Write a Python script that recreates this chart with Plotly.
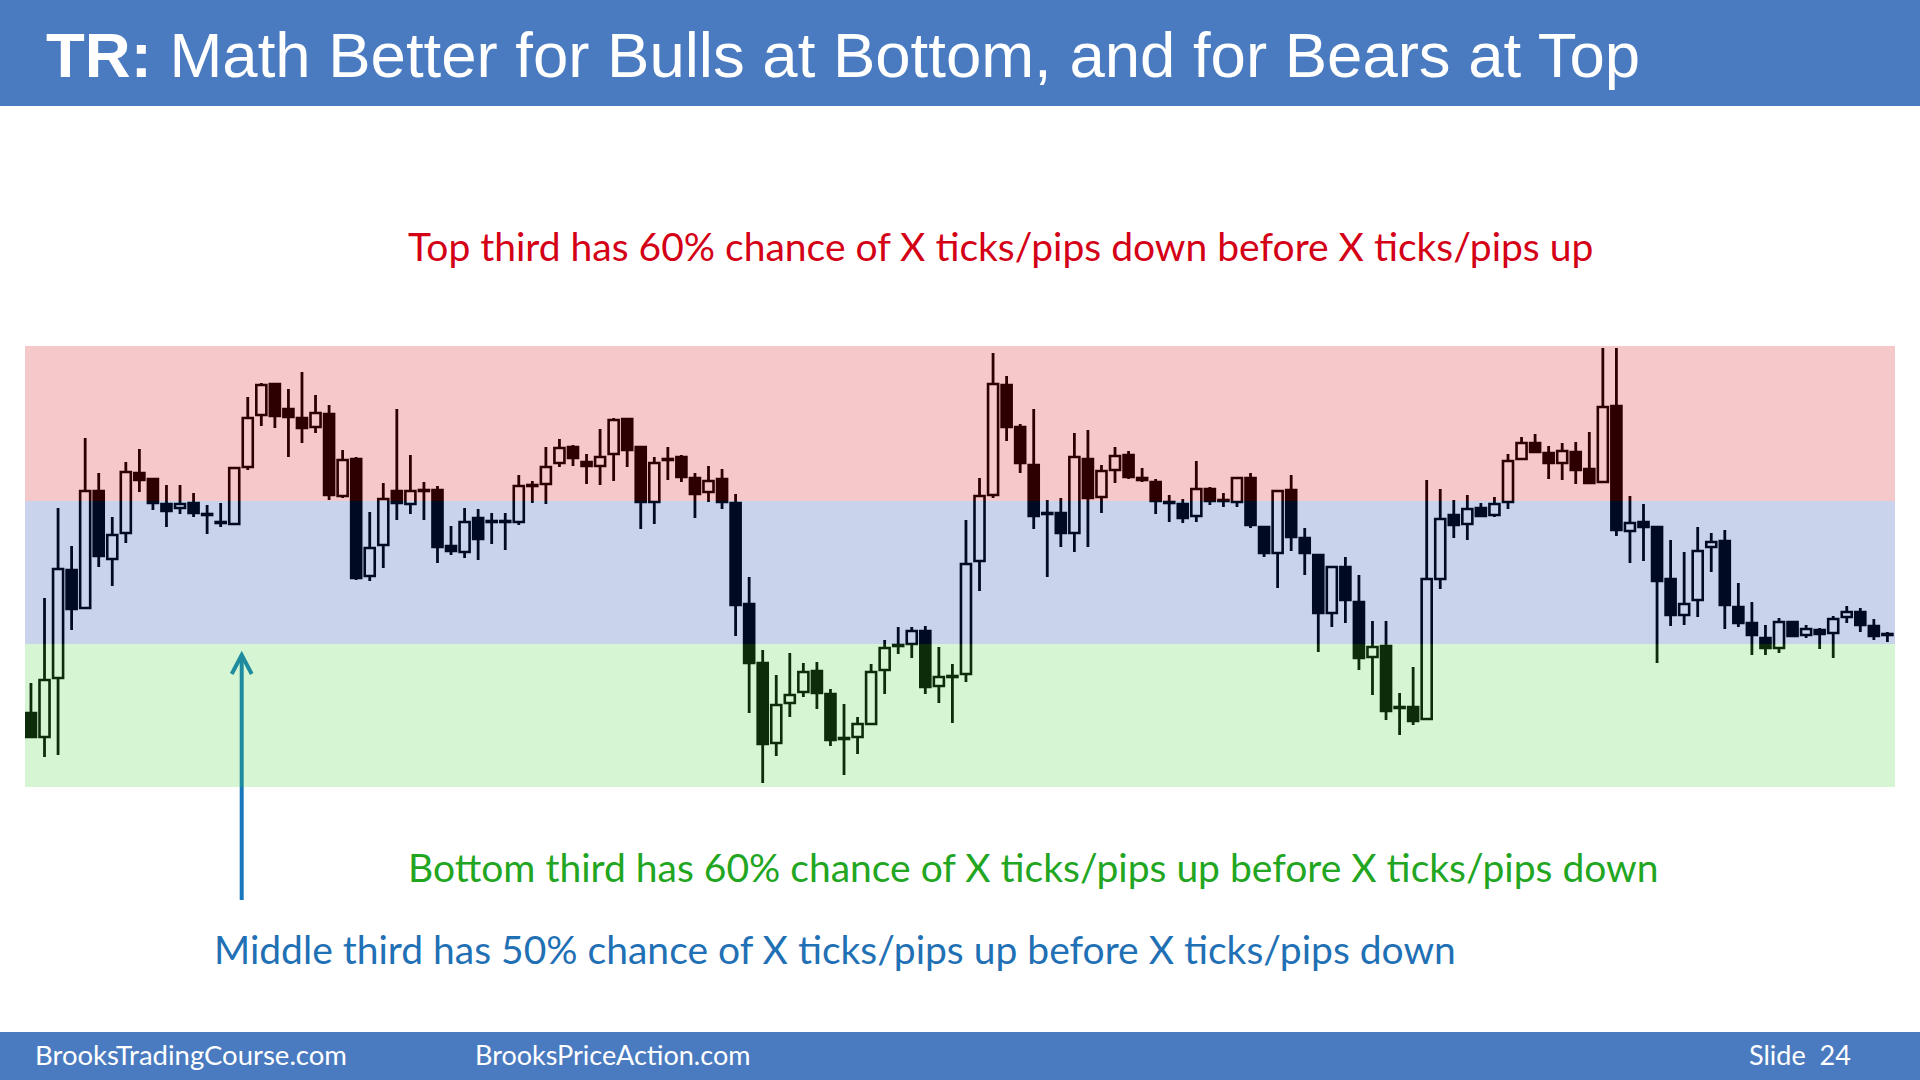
import plotly.graph_objects as go

# ---- data (price units; 0 = bottom of shaded range) ----
opens = [74, 50, 109, 217, 179, 296, 228, 254, 314, 308, 283, 279, 284, 273, 264, 263, 320, 372, 403, 378,
         369, 360, 373, 291, 328, 211, 242, 296, 283, 297, 297, 241, 235, 269, 266, 265, 265, 301, 303, 324,
         340, 325, 321, 333, 368, 340, 285, 327, 330, 309, 295, 308, 284, 183, 124, 44, 84, 95, 116, 93,
         48, 50, 63, 117, 141, 143, 156, 101, 110, 113, 226, 292, 402, 360, 322, 274, 274, 254, 328, 290,
         317, 332, 309, 305, 284, 283, 271, 298, 286, 285, 309, 260, 234, 297, 249, 232, 174, 220, 185, 130,
         141, 79, 80, 68, 208, 272, 263, 279, 272, 285, 328, 344, 334, 324, 335, 318, 305, 381, 256, 265,
         260, 208, 172, 187, 240, 246, 180, 164, 149, 139, 165, 152, 157, 154, 170, 175, 161, 152]
highs = [104, 189, 279, 241, 349, 314, 270, 325, 338, 309, 302, 302, 294, 282, 284, 320, 390, 404, 404, 398,
         415, 392, 382, 337, 330, 275, 304, 378, 332, 305, 301, 261, 279, 278, 274, 274, 312, 306, 340, 348,
         342, 333, 358, 369, 369, 341, 330, 340, 332, 314, 321, 318, 293, 210, 137, 112, 134, 124, 125, 98,
         83, 70, 123, 147, 160, 160, 161, 140, 123, 267, 309, 434, 411, 363, 378, 287, 289, 354, 357, 322,
         340, 336, 319, 308, 292, 288, 326, 300, 294, 310, 314, 261, 297, 312, 259, 233, 221, 230, 212, 166,
         166, 94, 120, 307, 298, 287, 292, 284, 290, 333, 350, 353, 341, 344, 345, 355, 439, 439, 291, 283,
         261, 247, 235, 260, 254, 257, 204, 185, 162, 169, 166, 162, 159, 171, 181, 179, 168, 155]
lows = [49, 30, 32, 157, 178, 220, 201, 244, 295, 277, 260, 273, 270, 253, 260, 262, 317, 361, 359, 330,
        344, 354, 287, 289, 207, 206, 219, 267, 273, 267, 224, 232, 229, 227, 243, 237, 262, 284, 283, 320,
        321, 303, 302, 306, 320, 258, 263, 307, 305, 269, 285, 278, 151, 74, 4, 31, 70, 90, 78, 41,
        12, 33, 62, 93, 133, 129, 93, 84, 64, 105, 196, 289, 346, 314, 258, 210, 240, 235, 240, 274,
        304, 308, 305, 273, 265, 264, 265, 282, 280, 280, 259, 230, 199, 236, 212, 135, 160, 164, 117, 92,
        67, 52, 62, 67, 198, 249, 247, 270, 270, 278, 327, 334, 308, 307, 303, 303, 304, 251, 224, 226,
        124, 161, 162, 170, 215, 158, 160, 132, 132, 134, 150, 149, 138, 129, 164, 155, 147, 145]
closes = [50, 107, 218, 178, 296, 231, 252, 315, 307, 284, 276, 283, 274, 272, 265, 319, 369, 402, 371, 370,
          359, 374, 292, 327, 209, 239, 288, 284, 296, 296, 240, 236, 265, 248, 265, 266, 301, 302, 320, 339,
          329, 321, 330, 367, 337, 285, 324, 328, 310, 293, 306, 285, 182, 124, 43, 82, 92, 115, 94, 47,
          49, 63, 115, 139, 142, 156, 100, 110, 111, 223, 291, 403, 360, 324, 271, 273, 254, 330, 289, 316,
          331, 310, 307, 286, 285, 269, 298, 286, 287, 309, 262, 234, 296, 250, 234, 174, 220, 187, 129, 140,
          76, 80, 66, 208, 268, 262, 278, 271, 283, 326, 344, 335, 324, 336, 317, 304, 380, 257, 264, 260,
          206, 172, 183, 236, 245, 182, 164, 152, 139, 165, 151, 158, 153, 168, 175, 162, 151, 153]

zone_edges = [0, 143, 286, 441]   # bottom / middle / top thirds of the trading range
zone_colors = ["rgba(62,214,48,0.21)", "rgba(0,48,167,0.21)", "rgba(207,0,0,0.21)"]

title_bold = "TR:"
title_rest = "Math Better for Bulls at Bottom, and for Bears at Top"
top_text = "Top third has 60% chance of X ticks/pips down before X ticks/pips up"
bottom_text = "Bottom third has 60% chance of X ticks/pips up before X ticks/pips down"
middle_text = "Middle third has 50% chance of X ticks/pips up before X ticks/pips down"
footer_left = "BrooksTradingCourse.com"
footer_mid = "BrooksPriceAction.com"
footer_right = "Slide  24"

# ---- build ----
W, H = 1920, 1080
x = list(range(len(opens)))
base = [min(o, c) for o, c in zip(opens, closes)]
height = [abs(c - o) for o, c in zip(opens, closes)]
fill = ["white" if c > o else "black" for o, c in zip(opens, closes)]

wx, wy = [], []
for i, o, h, l, c in zip(x, opens, highs, lows, closes):
    top, bot = max(o, c), min(o, c)
    wx += [i, i, None, i, i, None]
    wy += [h, top, None, bot, l, None]

fig = go.Figure()
fig.add_trace(go.Bar(x=x, y=height, base=base, width=0.74,
                     marker=dict(color=fill, line=dict(color="black", width=2.6)),
                     showlegend=False, hoverinfo="skip"))
fig.add_trace(go.Scatter(x=wx, y=wy, mode="lines", line=dict(color="black", width=2.8),
                         showlegend=False, hoverinfo="skip"))

px0, px1 = 25 / W, 1895 / W
shapes = []
BLUE = "#4A7BC0"
shapes.append(dict(type="rect", xref="paper", yref="paper", x0=0, x1=1, y0=1 - 106 / H, y1=1,
                   fillcolor=BLUE, line=dict(width=0), layer="below"))
shapes.append(dict(type="rect", xref="paper", yref="paper", x0=0, x1=1, y0=0, y1=1 - 1032 / H,
                   fillcolor=BLUE, line=dict(width=0), layer="below"))
# arrow (drawn before the zone overlays so it gets tinted)
ARROW = "#1878BE"
ax = 241.7 / W
tip = 1 - 655 / H
shapes.append(dict(type="line", xref="paper", yref="paper", x0=ax, x1=ax, y0=1 - 900 / H, y1=tip,
                   line=dict(color=ARROW, width=4), layer="above"))
shapes.append(dict(type="path", xref="paper", yref="paper",
                   path=f"M {ax - 10 / W},{tip - 19 / H} L {ax},{tip} L {ax + 10 / W},{tip - 19 / H}",
                   line=dict(color=ARROW, width=4), layer="above"))
# zone overlays
for k in range(3):
    shapes.append(dict(type="rect", xref="paper", yref="y", x0=px0, x1=px1,
                       y0=zone_edges[k], y1=zone_edges[k + 1],
                       fillcolor=zone_colors[k], line=dict(width=0), layer="above"))

ann = []
ann.append(dict(text=f"<b>{title_bold}</b> {title_rest}", x=44 / W, y=1 - 55 / H, xref="paper", yref="paper",
                xanchor="left", yanchor="middle", showarrow=False,
                font=dict(family="Liberation Sans, Arial", size=63.5, color="white")))
BODY_FONT = "Lato, Open Sans, sans-serif"
ann.append(dict(text=top_text, x=406 / W, y=1 - 246 / H, xref="paper", yref="paper",
                xanchor="left", yanchor="middle", showarrow=False,
                font=dict(family=BODY_FONT, size=39, color="#D40016")))
ann.append(dict(text=bottom_text, x=406 / W, y=1 - 867 / H, xref="paper", yref="paper",
                xanchor="left", yanchor="middle", showarrow=False,
                font=dict(family=BODY_FONT, size=39, color="#22A622")))
ann.append(dict(text=middle_text, x=212 / W, y=1 - 949 / H, xref="paper", yref="paper",
                xanchor="left", yanchor="middle", showarrow=False,
                font=dict(family=BODY_FONT, size=39, color="#1F70B4")))
ann.append(dict(text=footer_left, x=33 / W, y=1 - 1054 / H, xref="paper", yref="paper",
                xanchor="left", yanchor="middle", showarrow=False,
                font=dict(family=BODY_FONT, size=27.5, color="white")))
ann.append(dict(text=footer_mid, x=473 / W, y=1 - 1054 / H, xref="paper", yref="paper",
                xanchor="left", yanchor="middle", showarrow=False,
                font=dict(family=BODY_FONT, size=27, color="white")))
ann.append(dict(text=footer_right, x=1853 / W, y=1 - 1054 / H, xref="paper", yref="paper",
                xanchor="right", yanchor="middle", showarrow=False,
                font=dict(family=BODY_FONT, size=27, color="white")))

fig.update_layout(
    width=W, height=H, margin=dict(l=0, r=0, t=0, b=0),
    paper_bgcolor="white", plot_bgcolor="white",
    shapes=shapes, annotations=ann, showlegend=False, hovermode=False,
    xaxis=dict(domain=[px0, px1], range=[-0.44, len(opens) - 0.44], visible=False, fixedrange=True),
    yaxis=dict(domain=[1 - 787 / H, 1 - 346 / H], range=[zone_edges[0], zone_edges[-1]],
               visible=False, fixedrange=True),
)
fig.write_html("out.html", config=dict(displayModeBar=False),
               post_script="document.body.style.margin='0';document.body.style.overflow='hidden';")
